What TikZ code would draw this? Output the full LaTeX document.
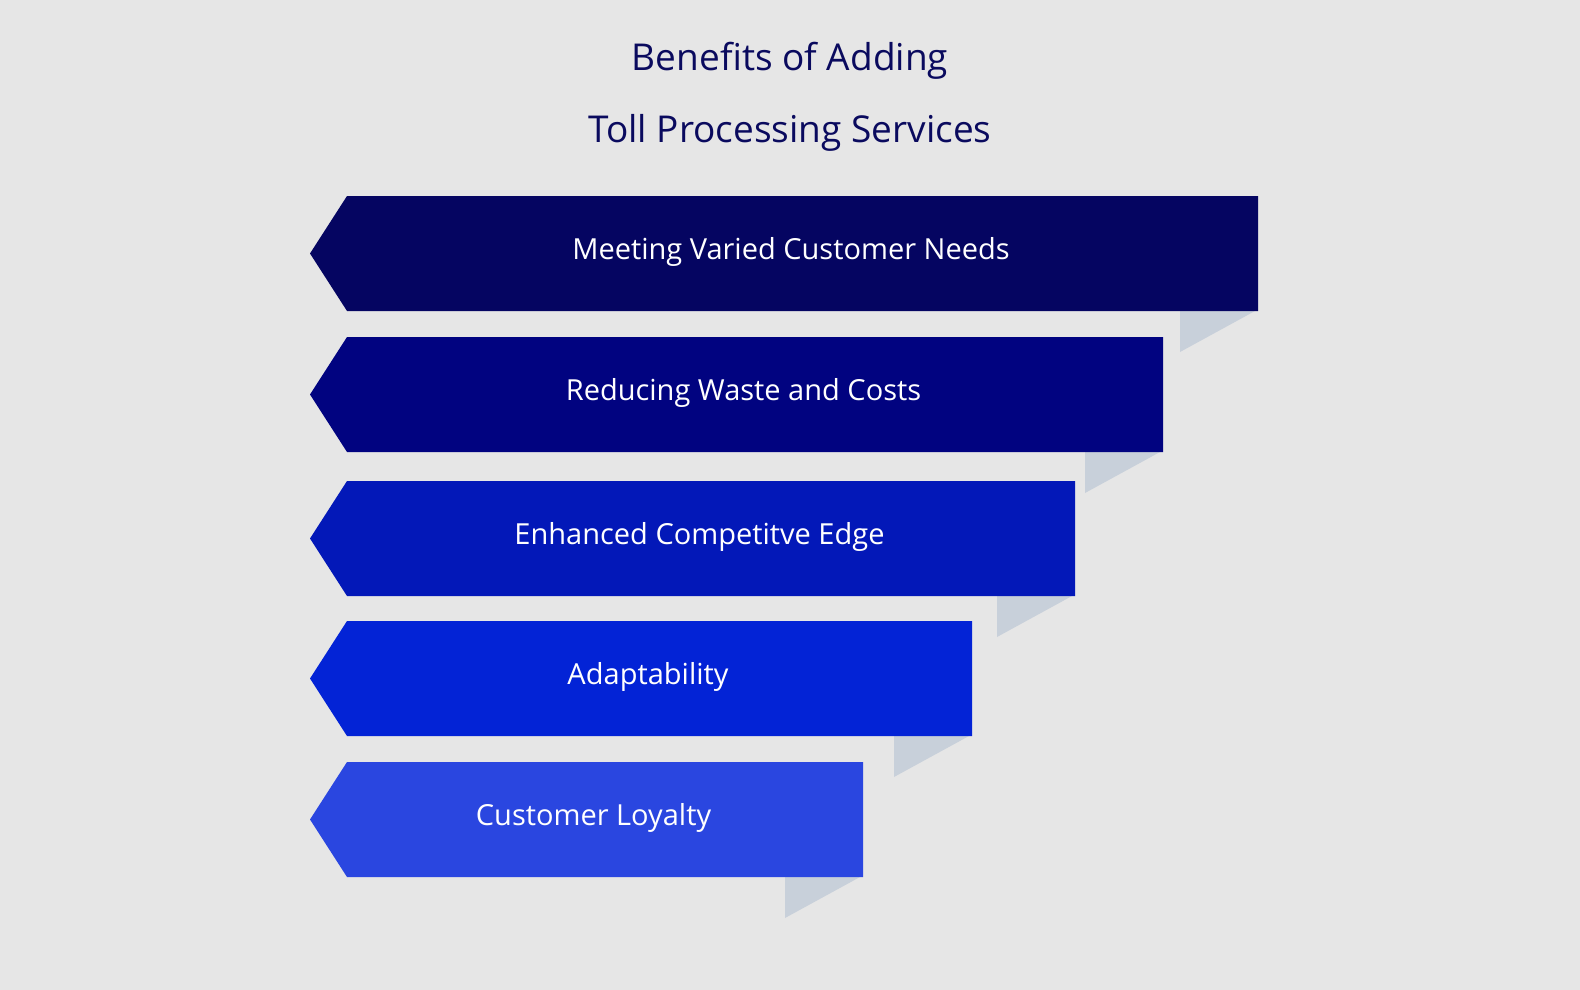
\documentclass[tikz,border=0pt]{standalone}
\usepackage{fontspec}
\setmainfont{Open Sans}
\definecolor{bg}{HTML}{E6E6E6}
\definecolor{shad}{HTML}{C8D0DA}
\definecolor{ttl}{HTML}{0A0A5E}
\definecolor{cA}{HTML}{050561}
\definecolor{cB}{HTML}{010380}
\definecolor{cC}{HTML}{0318B8}
\definecolor{cD}{HTML}{0323D6}
\definecolor{cE}{HTML}{2A46E0}
\begin{document}
\begin{tikzpicture}[x=1pt,y=-1pt,
  lbl/.style={text=white,font=\fontsize{29}{34}\selectfont,inner sep=0pt}]
\useasboundingbox[fill=bg] (0,0) rectangle (1580,990);
\node[text=ttl,font=\fontsize{37}{72}\selectfont,align=center] (title) at (790,97) {Benefits of Adding\\Toll Processing Services};
\foreach \r/\t/\c/\txt [count=\i] in {1258/196/cA/Meeting Varied Customer Needs,1163/337/cB/Reducing Waste and Costs,1075/481/cC/Enhanced Competitve Edge,972/621/cD/Adaptability,863/762/cE/Customer Loyalty}{
  \fill[shad] (\r-78,\t+115) -- (\r-3,\t+115) -- (\r-78,\t+156) -- cycle;
  \fill[\c] (310,\t+57.5) -- (347,\t) -- (\r,\t) -- (\r,\t+115) -- (347,\t+115) -- cycle;
  \node[lbl] (b\i) at ({(310+\r)/2+7},\t+56) {\txt};
}
\end{tikzpicture}
\end{document}
